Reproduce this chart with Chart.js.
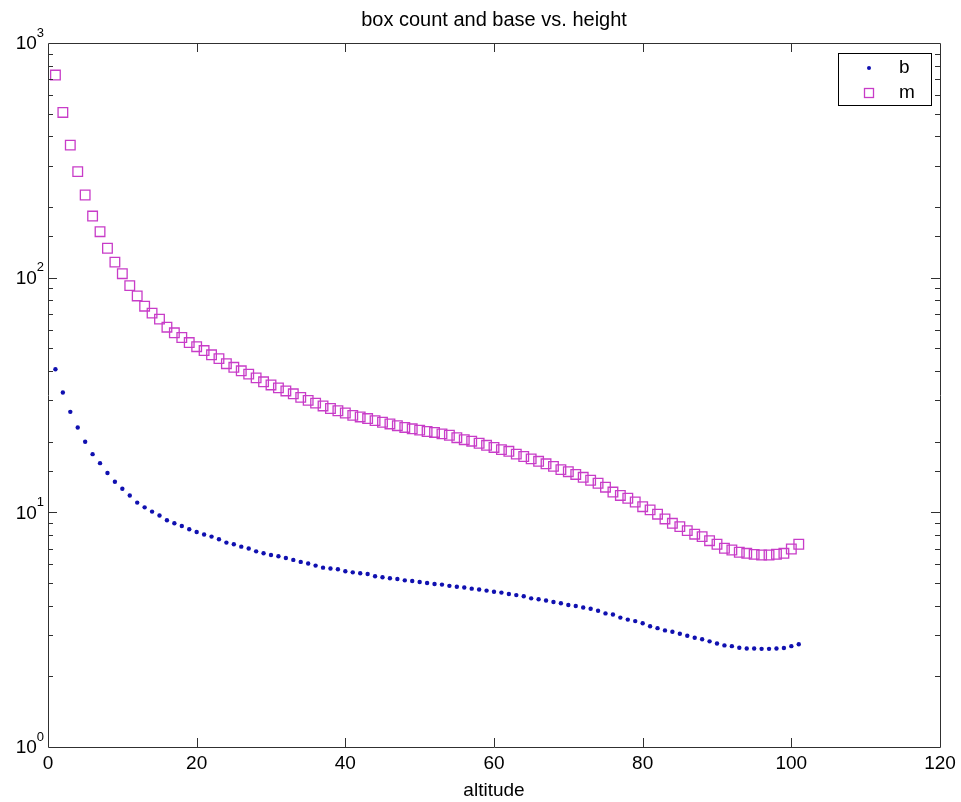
<!DOCTYPE html>
<html>
<head>
<meta charset="utf-8">
<title>box count and base vs. height</title>
<script src="https://cdn.jsdelivr.net/npm/chart.js@4/dist/chart.umd.min.js"></script>
<style>
  body { margin: 0; background: #fff; }
  #wrap { width: 961px; height: 802px; }
</style>
</head>
<body>
<div id="wrap"><canvas id="chart" width="961" height="802"></canvas></div>
<script>
// altitude steps (x values)
const altitude = [1, 2, 3, 4, 5, 6, 7, 8, 9, 10, 11, 12, 13, 14, 15, 16, 17, 18, 19, 20,
  21, 22, 23, 24, 25, 26, 27, 28, 29, 30, 31, 32, 33, 34, 35, 36, 37, 38, 39, 40,
  41, 42, 43, 44, 45, 46, 47, 48, 49, 50, 51, 52, 53, 54, 55, 56, 57, 58, 59, 60,
  61, 62, 63, 64, 65, 66, 67, 68, 69, 70, 71, 72, 73, 74, 75, 76, 77, 78, 79, 80,
  81, 82, 83, 84, 85, 86, 87, 88, 89, 90, 91, 92, 93, 94, 95, 96, 97, 98, 99, 100, 101];

// base (b)
const bValues = [40.7, 32.4, 26.8, 23.0, 20.0, 17.7, 16.2, 14.7, 13.5, 12.6,
  11.8, 11.0, 10.5, 10.07, 9.69, 9.25, 8.98, 8.75, 8.47, 8.25,
  8.04, 7.88, 7.68, 7.43, 7.31, 7.14, 7.01, 6.82, 6.69, 6.58,
  6.50, 6.39, 6.27, 6.15, 6.05, 5.93, 5.81, 5.76, 5.72, 5.61,
  5.55, 5.50, 5.46, 5.34, 5.29, 5.24, 5.20, 5.13, 5.10, 5.05,
  5.00, 4.95, 4.92, 4.86, 4.82, 4.78, 4.73, 4.69, 4.64, 4.59,
  4.55, 4.49, 4.44, 4.39, 4.30, 4.26, 4.21, 4.15, 4.10, 4.03,
  3.99, 3.93, 3.88, 3.81, 3.71, 3.67, 3.56, 3.49, 3.44, 3.37,
  3.27, 3.21, 3.14, 3.10, 3.04, 2.98, 2.92, 2.88, 2.82, 2.76,
  2.71, 2.69, 2.65, 2.63, 2.63, 2.62, 2.62, 2.63, 2.64, 2.69, 2.74];

// box count (m)
const mValues = [730, 506, 367, 283, 225, 183, 157, 133.5, 116.5, 104,
  92.5, 83.6, 75.6, 70.6, 66.6, 61.5, 58.2, 55.6, 52.9, 50.8,
  48.9, 46.9, 45.2, 43.0, 41.5, 40.1, 38.8, 37.4, 36.0, 34.9,
  33.9, 32.9, 32.0, 30.9, 30.0, 29.2, 28.4, 27.7, 27.1, 26.5,
  25.9, 25.5, 25.1, 24.6, 24.2, 23.8, 23.4, 23.0, 22.7, 22.4,
  22.1, 21.9, 21.6, 21.3, 20.8, 20.4, 20.1, 19.7, 19.3, 18.9,
  18.5, 18.2, 17.7, 17.3, 16.9, 16.5, 16.1, 15.7, 15.2, 14.9,
  14.5, 14.1, 13.7, 13.3, 12.8, 12.2, 11.8, 11.48, 11.07, 10.57,
  10.24, 9.82, 9.37, 8.98, 8.69, 8.36, 8.07, 7.88, 7.57, 7.31,
  7.03, 6.91, 6.76, 6.69, 6.62, 6.58, 6.58, 6.63, 6.69, 6.98, 7.31];

const xTicks = [0, 20, 40, 60, 80, 100, 120];
// y tick labels: base and exponent for each decade
const yTickValues = [1, 10, 100, 1000];
const yTickExponents = ['0', '1', '2', '3'];

const FONT = "'Liberation Sans', Arial, sans-serif";
const bColor = '#1010b0';
const mColor = '#c83cc8';

function toPoints(xs, ys) {
  return xs.map((x, i) => ({ x: x, y: ys[i] }));
}

// matlab style frame: box, inward ticks, 10^n labels and legend
const matlabFrame = {
  id: 'matlabFrame',
  afterDraw(chart) {
    const ctx = chart.ctx;
    const a = chart.chartArea;
    const xs = chart.scales.x;
    const ys = chart.scales.y;
    ctx.save();
    ctx.strokeStyle = '#303030';
    ctx.lineWidth = 1;
    ctx.beginPath();
    ctx.rect(Math.round(a.left) + 0.5, Math.round(a.top) + 0.5,
      Math.round(a.right - a.left), Math.round(a.bottom - a.top));
    // x ticks, bottom and top
    xTicks.forEach((v) => {
      if (v <= xs.min || v >= xs.max) return;
      const px = Math.round(xs.getPixelForValue(v)) + 0.5;
      ctx.moveTo(px, a.bottom); ctx.lineTo(px, a.bottom - 9);
      ctx.moveTo(px, a.top); ctx.lineTo(px, a.top + 9);
    });
    // y ticks (log), left and right
    ys.ticks.forEach((t) => {
      const v = t.value;
      if (v <= ys.min || v >= ys.max) return;
      const major = yTickValues.includes(v);
      const len = major ? 9 : 5;
      const py = Math.round(ys.getPixelForValue(v)) + 0.5;
      ctx.moveTo(a.left, py); ctx.lineTo(a.left + len, py);
      ctx.moveTo(a.right, py); ctx.lineTo(a.right - len, py);
    });
    ctx.stroke();

    // y labels as 10 with raised exponent
    ctx.fillStyle = '#000';
    ctx.textBaseline = 'middle';
    yTickValues.forEach((v, i) => {
      const py = ys.getPixelForValue(v);
      ctx.font = '13px ' + FONT;
      ctx.textAlign = 'right';
      const ew = ctx.measureText(yTickExponents[i]).width;
      ctx.fillText(yTickExponents[i], a.left - 4, py - 10);
      ctx.font = '19px ' + FONT;
      ctx.fillText('10', a.left - 4 - ew, py + 1);
    });

    // legend
    const lx = 838.5, ly = 53.5, lw = 93, lh = 52;
    ctx.fillStyle = '#fff';
    ctx.fillRect(lx, ly, lw, lh);
    ctx.strokeStyle = '#000';
    ctx.strokeRect(lx, ly, lw, lh);
    chart.data.datasets.forEach((ds, i) => {
      const cy = 68 + i * 25;
      const cx = 869;
      if (ds.pointStyle === 'rect') {
        ctx.strokeStyle = ds.borderColor;
        ctx.lineWidth = ds.borderWidth;
        ctx.strokeRect(cx - 4.5, cy - 4.5, 9, 9);
      } else {
        ctx.fillStyle = ds.backgroundColor;
        ctx.beginPath();
        ctx.arc(cx, cy, 2, 0, Math.PI * 2);
        ctx.fill();
      }
      ctx.fillStyle = '#000';
      ctx.font = '19px ' + FONT;
      ctx.textBaseline = 'middle';
      ctx.textAlign = 'left';
      ctx.fillText(ds.label, 899, cy);
    });
    ctx.restore();
  }
};

const ctx = document.getElementById('chart').getContext('2d');
const chart = new Chart(ctx, {
  type: 'scatter',
  data: {
    datasets: [
      {
        label: 'b',
        data: toPoints(altitude, bValues),
        pointStyle: 'circle',
        pointRadius: 2.2,
        pointHoverRadius: 2.2,
        backgroundColor: bColor,
        borderColor: bColor,
        borderWidth: 0,
      },
      {
        label: 'm',
        data: toPoints(altitude, mValues),
        pointStyle: 'rect',
        pointRadius: 6.8,
        pointHoverRadius: 6.8,
        backgroundColor: 'rgba(0,0,0,0)',
        borderColor: mColor,
        borderWidth: 1.3,
      },
    ],
  },
  options: {
    responsive: false,
    animation: false,
    layout: { padding: { top: 0, left: 0, right: 21, bottom: 0 } },
    plugins: {
      legend: { display: false },
      tooltip: { enabled: false },
      title: {
        display: true,
        text: 'box count and base vs. height',
        fullSize: false,
        color: '#000',
        font: { family: FONT, size: 20, weight: 'normal' },
        padding: { top: 8, bottom: 11 },
      },
    },
    scales: {
      x: {
        type: 'linear',
        min: 0,
        max: 120,
        afterBuildTicks: (scale) => { scale.ticks = xTicks.map((v) => ({ value: v })); },
        afterFit: (scale) => { scale.height = 55; },
        grid: { display: false, drawTicks: false },
        border: { display: false },
        ticks: { color: '#000', font: { family: FONT, size: 19 }, padding: 5 },
        title: {
          display: true,
          text: 'altitude',
          color: '#000',
          font: { family: FONT, size: 19 },
          padding: { top: 3, bottom: 0 },
        },
      },
      y: {
        type: 'logarithmic',
        min: 1,
        max: 1000,
        afterFit: (scale) => { scale.width = 48; },
        grid: { display: false, drawTicks: false },
        border: { display: false },
        ticks: { display: false, autoSkip: false },
      },
    },
  },
  plugins: [matlabFrame],
});
</script>
</body>
</html>
